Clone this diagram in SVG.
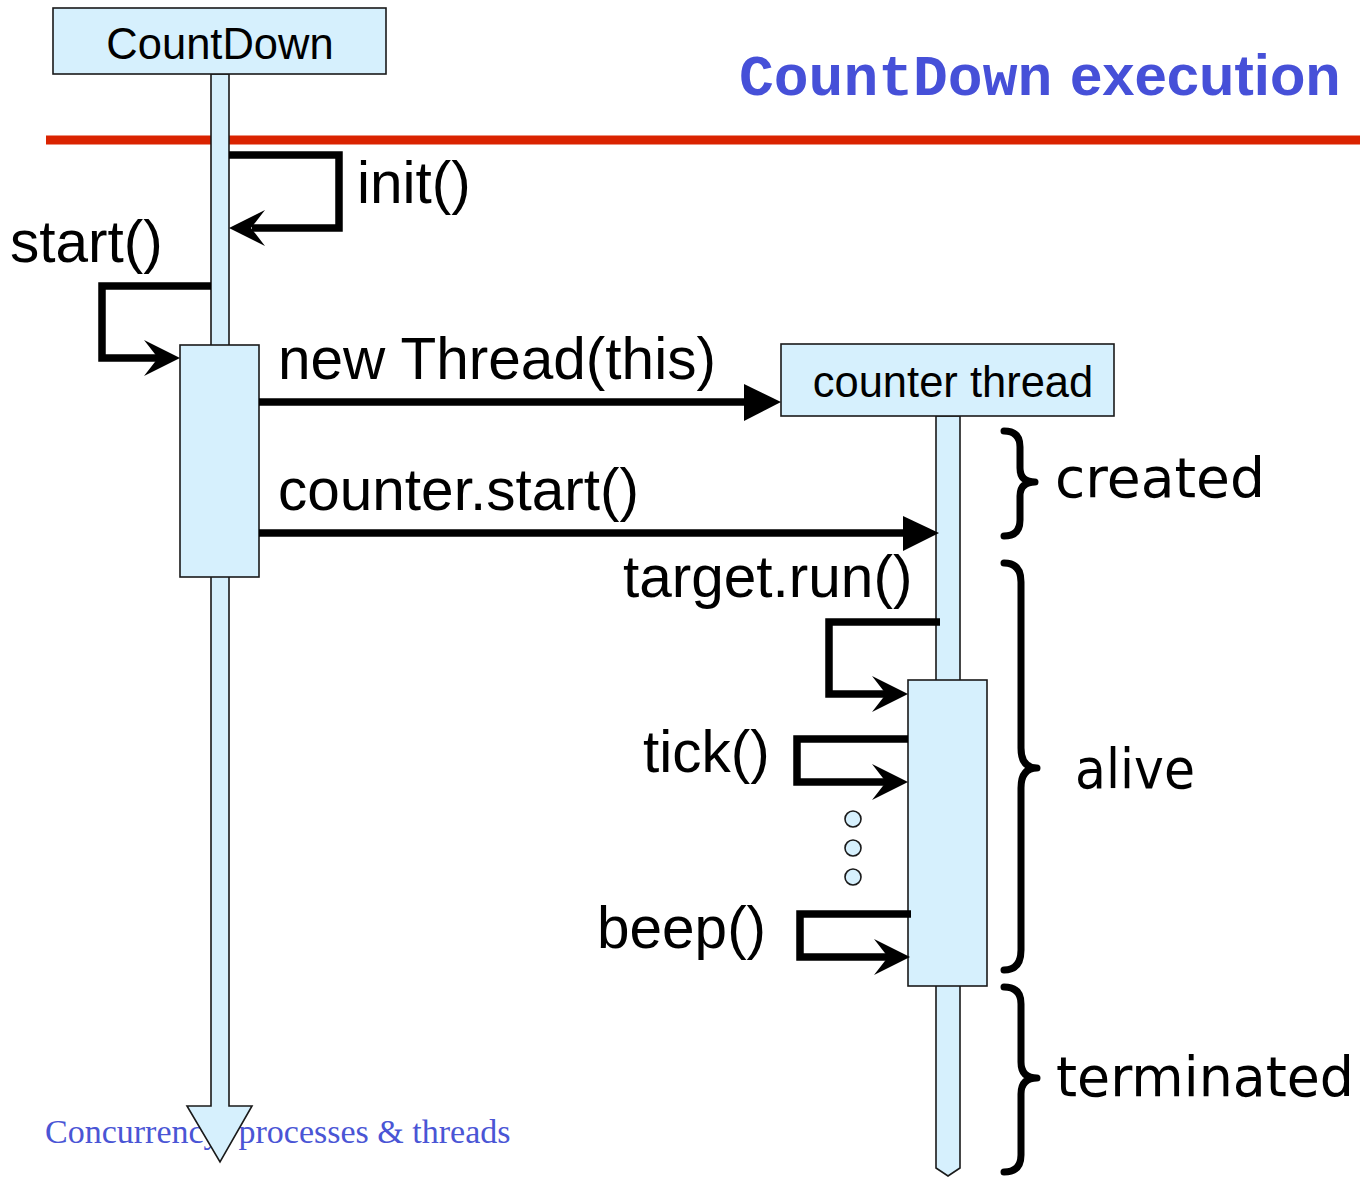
<svg xmlns="http://www.w3.org/2000/svg" width="1360" height="1178" viewBox="0 0 1360 1178">
<style>
.box{fill:#D6F0FD;stroke:#1a1a1a;stroke-width:1.6}
.lbl{font-family:"Liberation Sans",Arial,sans-serif;font-size:58.5px;fill:#000}
.hdr{font-family:"Liberation Sans",Arial,sans-serif;font-size:43.5px;fill:#000}
.hand{font-family:"Comic Sans MS","DejaVu Sans",sans-serif;font-size:55px;fill:#000}
.msg{fill:none;stroke:#000;stroke-width:7.5;stroke-linejoin:miter}
.brace{fill:none;stroke:#000;stroke-width:7;stroke-linecap:round;stroke-linejoin:round}
.head{fill:#000;stroke:none}
.dot{fill:#D6F0FD;stroke:#1a1a1a;stroke-width:1.6}
</style>
<rect width="1360" height="1178" fill="#fff"/>
<g id="title">
<text x="739" y="95" style="font-size:58px;font-weight:bold;fill:#4650D8"><tspan style="font-family:'Liberation Mono','Courier New',monospace">CountDown</tspan><tspan x="1070" style="font-family:'Liberation Sans',Arial,sans-serif">execution</tspan></text>
</g>
<line id="separator" x1="46" y1="140" x2="1360" y2="140" stroke="#DA2300" stroke-width="9"/>
<g id="footer">
<text x="45" y="1143" style="font-family:'Liberation Serif','Times New Roman',serif;font-size:34px;fill:#4A55D5">Concurrency: processes &amp; threads</text>
</g>
<g id="countdown">
<polygon class="box" points="211,74 211,1106 187,1106 220,1162 252,1106 229,1106 229,74"/>
<rect class="box" x="53" y="8" width="333" height="66"/>
<text class="hdr" x="220" y="59" text-anchor="middle">CountDown</text>
<rect class="box" x="180" y="345" width="79" height="232"/>
</g>
<g id="counter-thread">
<polygon class="box" points="936,416 936,1168 948,1176 960,1168 960,416"/>
<rect class="box" x="781" y="344" width="333" height="72"/>
<text class="hdr" x="953" y="397" text-anchor="middle">counter thread</text>
<rect class="box" x="908" y="680" width="79" height="306"/>
</g>
<g id="dots">
<circle class="dot" cx="853" cy="819" r="8"/>
<circle class="dot" cx="853" cy="848" r="8"/>
<circle class="dot" cx="853" cy="877" r="8"/>
</g>
<g id="connectors">
<polyline class="msg" points="229,155 339,155 339,228 252,228"/>
<path class="head" d="M229,228 L265,210 L251,228 L265,246 Z"/>
<polyline class="msg" points="211,286 102,286 102,358 158,358"/>
<path class="head" d="M180,358 L144,340 L158,358 L144,376 Z"/>
<line class="msg" x1="259" y1="402" x2="750" y2="402"/>
<path class="head" d="M781,402 L744,384 L744,421 Z"/>
<line class="msg" x1="259" y1="533" x2="908" y2="533"/>
<path class="head" d="M939,533 L903,516 L903,551 Z"/>
<polyline class="msg" points="940,622 829,622 829,694 886,694"/>
<path class="head" d="M908,694 L872,676 L886,694 L872,712 Z"/>
<polyline class="msg" points="908,739 797,739 797,782 886,782"/>
<path class="head" d="M908,782 L872,764 L886,782 L872,800 Z"/>
<polyline class="msg" points="911,914 800,914 800,957 888,957"/>
<path class="head" d="M910,957 L874,939 L888,957 L874,975 Z"/>
</g>
<g id="labels">
<text class="lbl" x="357" y="203">init()</text>
<text class="lbl" x="10" y="262">start()</text>
<text class="lbl" x="278" y="379">new Thread(this)</text>
<text class="lbl" x="278" y="510">counter.start()</text>
<text class="lbl" x="623" y="597">target.run()</text>
<text class="lbl" x="643" y="772">tick()</text>
<text class="lbl" x="597" y="948">beep()</text>
</g>
<g id="state-created">
<path class="brace" d="M1004,431 Q1020,431 1020,447 L1020,468 Q1020,482 1035,482 Q1020,482 1020,496 L1020,520 Q1020,536 1004,536"/>
<text class="hand" x="1055" y="497" textLength="210" lengthAdjust="spacingAndGlyphs">created</text>
</g>
<g id="state-alive">
<path class="brace" d="M1004,563 Q1021,563 1021,582 L1021,748 Q1021,768 1037,768 Q1021,768 1021,788 L1021,950 Q1021,970 1004,970"/>
<text class="hand" x="1075" y="788" textLength="120" lengthAdjust="spacingAndGlyphs">alive</text>
</g>
<g id="state-terminated">
<path class="brace" d="M1004,987 Q1021,987 1021,1004 L1021,1062 Q1021,1078 1037,1078 Q1021,1078 1021,1094 L1021,1155 Q1021,1172 1004,1172"/>
<text class="hand" x="1056" y="1096" textLength="298" lengthAdjust="spacingAndGlyphs">terminated</text>
</g>
</svg>
